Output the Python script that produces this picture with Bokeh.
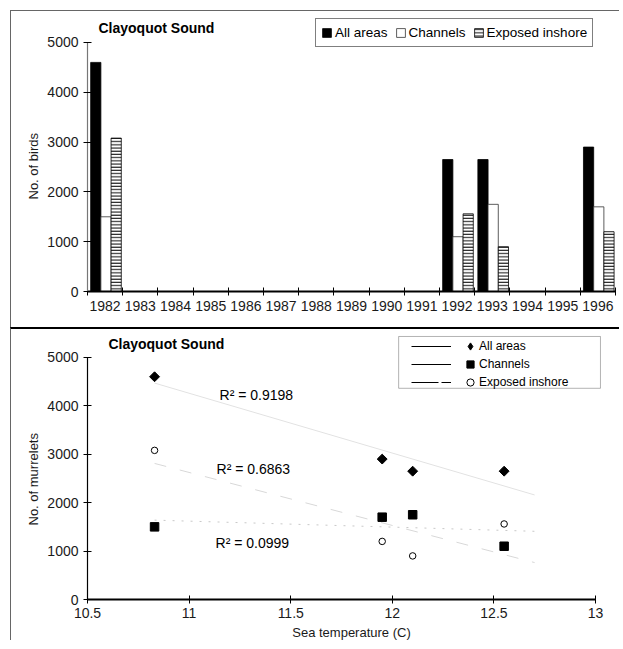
import math
import numpy as np
from bokeh.plotting import figure
from bokeh.models import (Range1d, FixedTicker, Label, Legend, LegendItem,
                          ColumnDataSource, BoxAnnotation, Title)
from bokeh.layouts import column
from bokeh.transform import dodge
from bokeh.embed import file_html
from bokeh.resources import INLINE

# ---------------- data ----------------
years = [1982, 1992, 1993, 1996]
all_areas = [4600, 2650, 2650, 2900]
channels = [1500, 1100, 1750, 1700]
exposed = [3080, 1560, 900, 1200]
sea_temp = [10.83, 12.55, 12.10, 11.95]

year_ticks = list(range(1982, 1997))
temp_ticks = [10.5, 11, 11.5, 12, 12.5, 13]
count_ticks = [0, 1000, 2000, 3000, 4000, 5000]
series_names = ["All areas", "Channels", "Exposed inshore"]
r2_texts = ["R\u00b2 = 0.9198", "R\u00b2 = 0.6863", "R\u00b2 = 0.0999"]
trend_end = 12.7

FONT = "Liberation Sans"
TXT = "#1a1a1a"
NAN = float("nan")


def style_axis(ax, lw):
    ax.axis_line_color = "black"
    ax.axis_line_width = lw
    ax.major_tick_line_color = "black"
    ax.major_label_text_font = FONT
    ax.major_label_text_font_size = "14px"
    ax.major_label_text_color = TXT
    ax.minor_tick_line_color = None


def side_title(text, offset):
    return Title(text=text, align="left", offset=offset, text_font=FONT,
                 text_font_style="normal", text_font_size="13px",
                 text_color=TXT, standoff=8)


# ---------------- top: bar chart ----------------
top = figure(width=609, height=317, x_range=Range1d(1981.5, 1996.5),
             y_range=Range1d(0, 5622), output_backend="svg",
             toolbar_location=None, min_border_left=76, min_border_right=5,
             min_border_top=0, min_border_bottom=37)
top.margin = (10, 0, 0, 10)
top.styles = {"border-top": "1px solid #666666", "border-left": "1px solid #666666"}
top.grid.visible = False
top.outline_line_color = None

src = ColumnDataSource(dict(year=years, a=all_areas, c=channels, e=exposed))
rb1 = top.vbar(x=dodge("year", -0.265), top="a", width=0.29, source=src,
               fill_color="black", line_color="black", line_width=0.8)
rb2 = top.vbar(x=dodge("year", 0.025), top="c", width=0.29, source=src,
               fill_color="white", line_color="#333333", line_width=0.8)
rb3 = top.vbar(x=dodge("year", 0.315), top="e", width=0.29, source=src,
               fill_color="white", line_color="black", line_width=0.8,
               hatch_pattern="horizontal_line", hatch_scale=3.2,
               hatch_weight=1, hatch_color="black")

xa = top.xaxis[0]
style_axis(xa, 2)
xa.ticker = FixedTicker(ticks=year_ticks,
                        minor_ticks=[y - 0.5 for y in year_ticks] + [year_ticks[-1] + 0.5])
xa.major_tick_in = 0
xa.major_tick_out = 0
xa.minor_tick_line_color = "black"
xa.minor_tick_in = 4
xa.minor_tick_out = 4
xa.major_label_standoff = 5

ya = top.yaxis[0]
style_axis(ya, 1.2)
ya.axis_line_color = "#777777"
ya.ticker = FixedTicker(ticks=count_ticks)
ya.bounds = (0, 5000)
ya.major_tick_in = 4
ya.major_tick_out = 4
ya.major_label_standoff = 5
top.add_layout(side_title("No. of birds", 92), "left")

top.add_layout(Label(x=11, x_units="screen", y=5281, y_units="data",
                     text="Clayoquot Sound", text_font=FONT, text_font_style="bold",
                     text_font_size="14px", text_baseline="middle", text_color="black"))

leg_top = Legend(items=[LegendItem(label=series_names[0], renderers=[rb1]),
                        LegendItem(label=series_names[1], renderers=[rb2]),
                        LegendItem(label=series_names[2], renderers=[rb3])],
                 orientation="horizontal", location=(228, 244),
                 glyph_width=11, glyph_height=11, label_height=17,
                 label_standoff=3, spacing=7, padding=5, margin=0,
                 border_line_color="black", border_line_width=1,
                 background_fill_color="white", background_fill_alpha=1,
                 label_text_font=FONT, label_text_font_size="13.5px",
                 label_text_color="black")
top.add_layout(leg_top, "center")

# ---------------- bottom: scatter with trends ----------------
bot = figure(width=609, height=313, x_range=Range1d(10.5, 13.098),
             y_range=Range1d(0, 5576), output_backend="svg",
             toolbar_location=None, min_border_left=73, min_border_right=5,
             min_border_top=0, min_border_bottom=42)
bot.margin = (0, 0, 0, 10)
bot.styles = {"border-top": "2px solid black", "border-left": "1px solid #666666"}
bot.grid.visible = False
bot.outline_line_color = None

trend_styles = [dict(line_color="#e2e2e2", line_width=1),
                dict(line_color="#c8c8c8", line_width=1, line_dash="2 7"),
                dict(line_color="#d8d8d8", line_width=1, line_dash="12 14")]
xs_fit = np.array([min(sea_temp), trend_end])
for ser, st in zip([all_areas, channels, exposed], trend_styles):
    k, b = np.polyfit(sea_temp, ser, 1)
    bot.line(xs_fit, k * xs_fit + b, **st)

s1 = bot.scatter(sea_temp, all_areas, marker="square", angle=math.pi / 4, size=7,
                 fill_color="black", line_color="black")
s2 = bot.scatter(sea_temp, channels, marker="square", size=8.5,
                 fill_color="black", line_color="black")
s3 = bot.scatter(sea_temp, exposed, marker="circle", size=6.5,
                 fill_color="white", line_color="black", line_width=1)

bxa = bot.xaxis[0]
style_axis(bxa, 2)
bxa.ticker = FixedTicker(ticks=temp_ticks)
bxa.bounds = (10.5, 13)
bxa.major_tick_in = 4
bxa.major_tick_out = 4
bxa.major_label_standoff = 4
bxa.axis_label = "Sea temperature (C)"
bxa.axis_label_text_font = FONT
bxa.axis_label_text_font_size = "13px"
bxa.axis_label_text_font_style = "normal"
bxa.axis_label_text_color = TXT
bxa.axis_label_standoff = 4

bya = bot.yaxis[0]
style_axis(bya, 1.2)
bya.ticker = FixedTicker(ticks=count_ticks)
bya.bounds = (0, 5000)
bya.major_tick_in = 4
bya.major_tick_out = 4
bya.major_label_standoff = 5
bot.add_layout(side_title("No. of murrelets", 74), "left")

bot.add_layout(Label(x=10.603, y=5267, text="Clayoquot Sound", text_font=FONT,
                     text_font_style="bold", text_font_size="14px",
                     text_baseline="middle", text_color="black"))

r2_pos = [(11.15, 4220), (11.135, 2700), (11.13, 1164)]
for (rx, ry), t in zip(r2_pos, r2_texts):
    bot.add_layout(Label(x=rx, y=ry, text=t, text_font=FONT, text_font_size="14px",
                         text_baseline="middle", text_color="black"))

# legend: box + line samples + markers/labels (legend-only renderers hold no visible data)
bot.add_layout(BoxAnnotation(left=12.031, right=13.024, top=5432, bottom=4362,
                             fill_color="white", fill_alpha=1,
                             line_color="black", line_width=1, level="annotation"))
l1 = bot.line([NAN, NAN], [NAN, NAN], line_color="black", line_width=1)
l2 = bot.line([NAN, NAN], [NAN, NAN], line_color="black", line_width=1)
l3 = bot.line([NAN, NAN], [NAN, NAN], line_color="black", line_width=1,
              line_dash="27 3 10 20")
m1 = bot.scatter([NAN], [NAN], marker="diamond", size=9,
                 fill_color="black", line_color="black")
leg_lines = Legend(items=[LegendItem(label=" ", renderers=[l]) for l in (l1, l2, l3)],
                   location=(324, 208), glyph_width=40, glyph_height=18,
                   label_height=18, label_width=1, label_standoff=0, spacing=0,
                   padding=0, margin=0, border_line_color=None,
                   background_fill_alpha=0, label_text_font_size="2px")
leg_marks = Legend(items=[LegendItem(label=series_names[0], renderers=[m1]),
                          LegendItem(label=series_names[1], renderers=[s2]),
                          LegendItem(label=series_names[2], renderers=[s3])],
                   location=(374, 208), glyph_width=18, glyph_height=18,
                   label_height=18, label_standoff=0, spacing=0,
                   padding=0, margin=0, border_line_color=None,
                   background_fill_alpha=0, label_text_font=FONT,
                   label_text_font_size="12px", label_text_color="black")
bot.add_layout(leg_lines, "center")
bot.add_layout(leg_marks, "center")

layout = column(top, bot)
open("out.html", "w").write(file_html(layout, INLINE))
